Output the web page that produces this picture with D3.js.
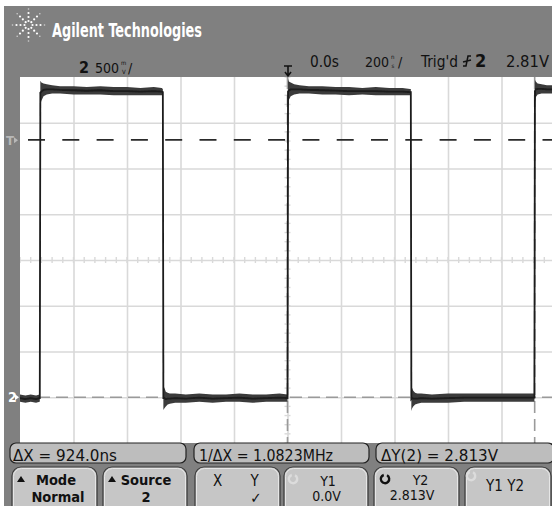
<!DOCTYPE html>
<html>
<head>
<meta charset="utf-8">
<script src="https://cdn.jsdelivr.net/npm/d3@7/dist/d3.min.js"></script>
<style>
  html, body { margin: 0; padding: 0; background: #fff; }
  svg { display: block; }
  text { font-family: "Liberation Sans Narrow", "DejaVu Sans Condensed", "Liberation Sans", Arial, sans-serif; }
</style>
</head>
<body>
<svg id="scope" width="552" height="506"></svg>
<script>
// ---- Acquisition settings ----
const timePerDivNs = 200;      // horizontal scale
const voltsPerDiv = 0.5;       // channel 2 vertical scale
const timeDivisions = [-5, -4, -3, -2, -1, 0, 1, 2, 3, 4, 5];
const voltDivisions = [-4, -3, -2, -1, 0, 1, 2, 3, 4];
const screenCenterVolts = 1.5;

// ---- Channel 2 trace: envelope (max / min) in volts at sample times in ns ----
const traceTimeNs = [
  -1000, -980, -960, -940, -927, -926,
  -924, -920, -912, -900, -880, -850, -800, -750, -700, -650, -600, -550, -500, -470, -466,
  -464, -460, -455, -448, -440, -420, -380, -330, -280, -230, -180, -130, -80, -30, 0,
  2, 5, 12, 25, 45, 80, 130, 180, 230, 280, 330, 380, 430, 458, 461,
  463, 466, 470, 477, 485, 500, 540, 600, 660, 720, 780, 840, 890, 920, 923,
  925, 928, 935, 950, 970, 1000
];
const traceMaxV = [
  0.03, 0.02, 0.03, 0.02, 0.03, 0.03,
  3.46, 3.44, 3.43, 3.42, 3.41, 3.40, 3.40, 3.39, 3.40, 3.39, 3.39, 3.38, 3.39, 3.38, 3.37,
  0.12, 0.10, 0.06, 0.05, 0.04, 0.04, 0.03, 0.04, 0.03, 0.03, 0.04, 0.03, 0.03, 0.04, 0.03,
  3.48, 3.45, 3.44, 3.42, 3.41, 3.40, 3.40, 3.39, 3.39, 3.38, 3.39, 3.38, 3.38, 3.37, 3.37,
  0.11, 0.10, 0.07, 0.05, 0.04, 0.04, 0.03, 0.04, 0.04, 0.04, 0.04, 0.04, 0.04, 0.04, 0.04,
  3.47, 3.45, 3.43, 3.42, 3.41, 3.41
];
const traceMinV = [
  -0.05, -0.06, -0.05, -0.06, -0.05, -0.05,
  3.20, 3.24, 3.29, 3.31, 3.32, 3.32, 3.31, 3.31, 3.31, 3.30, 3.30, 3.30, 3.30, 3.30, 3.30,
  -0.14, -0.12, -0.10, -0.08, -0.07, -0.06, -0.06, -0.05, -0.06, -0.05, -0.05, -0.06, -0.05, -0.05, -0.05,
  3.20, 3.25, 3.29, 3.31, 3.32, 3.32, 3.31, 3.31, 3.30, 3.31, 3.30, 3.30, 3.30, 3.30, 3.30,
  -0.15, -0.12, -0.10, -0.08, -0.07, -0.06, -0.06, -0.06, -0.05, -0.05, -0.05, -0.05, -0.05, -0.05, -0.05,
  3.22, 3.28, 3.31, 3.32, 3.32, 3.32
];

// ---- Cursors ----
const cursorX1Ns = 0;
const cursorX2Ns = 924;
const cursorY1V = 0.0;
const cursorY2V = 2.813;
const triggerLevelV = 2.81;

// ---- Status line and softkey labels ----
const brandText = "Agilent Technologies";
const readouts = ["\u0394X = 924.0ns", "1/\u0394X = 1.0823MHz", "\u0394Y(2) = 2.813V"];
const softkeyTop = ["Mode", "Source", "", "Y1", "Y2", ""];
const softkeyBottom = ["Normal", "2", "\u2713", "0.0V", "2.813V", "Y1 Y2"];

const svg = d3.select("#scope");
const W = 552, H = 506;

// bezel background
svg.append("rect").attr("x", 0).attr("y", 0).attr("width", W).attr("height", H).attr("fill", "#fff");
svg.append("rect").attr("x", 4).attr("y", 6).attr("width", W - 4).attr("height", H - 6).attr("fill", "#808080");

// graticule area
const plot = { left: 20, right: 555, top: 77, bottom: 443 };
const x = d3.scaleLinear()
  .domain([timeDivisions[0] * timePerDivNs, timeDivisions[timeDivisions.length - 1] * timePerDivNs])
  .range([plot.left, plot.right]);
const y = d3.scaleLinear()
  .domain([screenCenterVolts + voltDivisions[0] * voltsPerDiv, screenCenterVolts + voltDivisions[voltDivisions.length - 1] * voltsPerDiv])
  .range([plot.bottom, plot.top]);

const defs = svg.append("defs");
defs.append("clipPath").attr("id", "screen")
  .append("rect").attr("x", plot.left).attr("y", plot.top)
  .attr("width", W - plot.left).attr("height", plot.bottom - plot.top);
defs.append("filter").attr("id", "soft").append("feGaussianBlur").attr("stdDeviation", 0.45);

svg.append("rect").attr("x", plot.left).attr("y", plot.top)
  .attr("width", W - plot.left).attr("height", plot.bottom - plot.top).attr("fill", "#fff");

const screen = svg.append("g").attr("clip-path", "url(#screen)");

// grid lines via axes
const gx = screen.append("g")
  .attr("transform", `translate(0,${plot.bottom})`)
  .call(d3.axisBottom(x)
    .tickValues(timeDivisions.slice(1, -1).map(d => d * timePerDivNs))
    .tickSize(-(plot.bottom - plot.top)).tickFormat(""));
const gy = screen.append("g")
  .attr("transform", `translate(${plot.left},0)`)
  .call(d3.axisLeft(y)
    .tickValues(voltDivisions.slice(1, -1).map(d => screenCenterVolts + d * voltsPerDiv))
    .tickSize(-(W - plot.left)).tickFormat(""));
[gx, gy].forEach(g => {
  g.select(".domain").remove();
  g.selectAll(".tick line").attr("stroke", "#d9d9d9").attr("stroke-width", 1.6);
});

// minor ticks on the centre axes
const minorT = d3.range(timeDivisions[0] * 5, timeDivisions[timeDivisions.length - 1] * 5 + 1).map(k => k * timePerDivNs / 5);
const minorV = d3.range(voltDivisions[0] * 5, voltDivisions[voltDivisions.length - 1] * 5 + 1).map(k => screenCenterVolts + k * voltsPerDiv / 5);
screen.append("g").selectAll("line").data(minorT).join("line")
  .attr("x1", d => x(d)).attr("x2", d => x(d))
  .attr("y1", y(screenCenterVolts) - 3).attr("y2", y(screenCenterVolts) + 3)
  .attr("stroke", "#d9d9d9").attr("stroke-width", 1.4);
screen.append("g").selectAll("line").data(minorV).join("line")
  .attr("y1", d => y(d)).attr("y2", d => y(d))
  .attr("x1", x(0) - 3).attr("x2", x(0) + 3)
  .attr("stroke", "#d9d9d9").attr("stroke-width", 1.4);

// cursors
screen.append("line")
  .attr("x1", plot.left).attr("x2", W).attr("y1", y(cursorY1V)).attr("y2", y(cursorY1V))
  .attr("stroke", "#9a9a9a").attr("stroke-width", 1.6).attr("stroke-dasharray", "12,6");
screen.append("line")
  .attr("x1", plot.left + 8).attr("x2", W).attr("y1", y(cursorY2V)).attr("y2", y(cursorY2V))
  .attr("stroke", "#2a2a2a").attr("stroke-width", 1.6).attr("stroke-dasharray", "17,17.3");
[cursorX1Ns, cursorX2Ns].forEach(t => {
  screen.append("line")
    .attr("x1", x(t)).attr("x2", x(t)).attr("y1", plot.top).attr("y2", plot.bottom)
    .attr("stroke", "#9a9a9a").attr("stroke-width", 1.6).attr("stroke-dasharray", "12,6");
});

// trace
const samples = traceTimeNs.map((t, i) => ({ t, hi: traceMaxV[i], lo: traceMinV[i] }));
const band = d3.area().x(d => x(d.t)).y0(d => y(d.lo)).y1(d => y(d.hi)).curve(d3.curveLinear);
const mid = d3.line().x(d => x(d.t)).y(d => y((d.hi + d.lo) / 2));
const traceG = screen.append("g").attr("filter", "url(#soft)");
traceG.append("path").datum(samples).attr("d", band).attr("fill", "#3a3a3a");
traceG.append("path").datum(samples).attr("d", mid)
  .attr("fill", "none").attr("stroke", "#1a1a1a").attr("stroke-width", 1.8);

// left gutter markers
svg.append("text").attr("x", 6).attr("y", y(triggerLevelV) + 5).text("T")
  .attr("font-size", 13).attr("fill", "#b8b8b8").attr("font-weight", "bold");
svg.append("path")
  .attr("d", `M14,${y(triggerLevelV) - 3} L18,${y(triggerLevelV)} L14,${y(triggerLevelV) + 3} Z`)
  .attr("fill", "#b8b8b8");
svg.append("text").attr("x", 8).attr("y", y(0) + 5).text("2")
  .attr("font-size", 14).attr("fill", "#fff").attr("font-weight", "bold");
svg.append("path")
  .attr("d", `M15,${y(0) - 3} L19,${y(0)} L15,${y(0) + 3} Z`).attr("fill", "#fff");

// brand logo (spark of dots)
const logo = svg.append("g").attr("transform", "translate(28.5,25)");
d3.range(8).forEach(k => {
  const a = k * Math.PI / 4;
  [4, 8, 12, 16].forEach((r, j) => {
    logo.append("circle").attr("cx", Math.cos(a) * r).attr("cy", Math.sin(a) * r)
      .attr("r", j === 3 ? 0.8 : 1.1).attr("fill", j === 3 ? "#cfcfcf" : "#fff");
  });
});
svg.append("text").attr("x", 52).attr("y", 36.5).text(brandText)
  .attr("font-size", 20).attr("font-weight", "bold").attr("fill", "#fff")
  .attr("textLength", 150).attr("lengthAdjust", "spacingAndGlyphs");

// status line
const status = svg.append("g").attr("fill", "#111");
status.append("text").attr("x", 79).attr("y", 73).text("2").attr("font-size", 16).attr("font-weight", "bold");
status.append("text").attr("x", 95).attr("y", 73).text("500").attr("font-size", 14);
status.append("text").attr("x", 121).attr("y", 65).text("m").attr("font-size", 6);
status.append("text").attr("x", 122).attr("y", 73.5).text("V").attr("font-size", 6);
status.append("text").attr("x", 128).attr("y", 73).text("/").attr("font-size", 14);

// trigger position marker
svg.append("path").attr("d", "M284,66 L292,66 M288,66 L288,75 M285,72 L288,76 L291,72")
  .attr("stroke", "#111").attr("stroke-width", 1.6).attr("fill", "none");

status.append("text").attr("x", 310).attr("y", 67).text("0.0s").attr("font-size", 15)
  .attr("textLength", 29).attr("lengthAdjust", "spacingAndGlyphs");
status.append("text").attr("x", 365).attr("y", 67).text("200").attr("font-size", 14);
status.append("text").attr("x", 391).attr("y", 59).text("n").attr("font-size", 6);
status.append("text").attr("x", 391.5).attr("y", 67.5).text("s").attr("font-size", 6);
status.append("text").attr("x", 398).attr("y", 67).text("/").attr("font-size", 14);
status.append("text").attr("x", 421).attr("y", 67).text("Trig'd").attr("font-size", 15)
  .attr("textLength", 37).attr("lengthAdjust", "spacingAndGlyphs");
svg.append("path").attr("d", "M463,66 L466,66 L468,56 L471,56 M463,62 L471,60")
  .attr("stroke", "#111").attr("stroke-width", 1.5).attr("fill", "none");
status.append("text").attr("x", 475).attr("y", 67).text("2").attr("font-size", 18).attr("font-weight", "bold");
status.append("text").attr("x", 506).attr("y", 67).text("2.81V").attr("font-size", 15)
  .attr("textLength", 43).attr("lengthAdjust", "spacingAndGlyphs");

// cursor readouts
const readBoxes = [
  { x0: 10, x1: 186, tx: 13, tw: 104 },
  { x0: 194, x1: 369, tx: 199, tw: 134 },
  { x0: 376, x1: 554, tx: 381, tw: 117 }
];
readBoxes.forEach((b, i) => {
  svg.append("rect").attr("x", b.x0).attr("y", 443).attr("width", b.x1 - b.x0).attr("height", 20)
    .attr("rx", 6).attr("fill", "#bdbdbd").attr("stroke", "#222").attr("stroke-width", 1.2);
  svg.append("text").attr("x", b.tx).attr("y", 461).text(readouts[i])
    .attr("font-size", 15).attr("fill", "#111")
    .attr("textLength", b.tw).attr("lengthAdjust", "spacingAndGlyphs");
});

// softkeys
const keyBoxes = [
  { x0: 12, x1: 97 }, { x0: 103, x1: 187 }, { x0: 195, x1: 280 },
  { x0: 284, x1: 368 }, { x0: 374, x1: 459 }, { x0: 465, x1: 551 }
];
const keyTopX = [56, 146, 0, 328, 420.5, 0];
const keyTopY = [485, 485, 0, 485.5, 484.5, 0];
const keyBotX = [58, 146, 256, 326.5, 412, 505];
const keyBotY = [502, 502, 503, 501, 500, 491];
const keyFont = [14.5, 14.5, 15, 14, 14, 15];
keyBoxes.forEach((b, i) => {
  svg.append("rect").attr("x", b.x0).attr("y", 467).attr("width", b.x1 - b.x0).attr("height", 50)
    .attr("rx", 9).attr("fill", "#c6c6c6").attr("stroke", "#3a3a3a").attr("stroke-width", 1.2);
  svg.append("rect").attr("x", b.x0 + 1.5).attr("y", 468.5).attr("width", b.x1 - b.x0 - 3).attr("height", 50)
    .attr("rx", 8).attr("fill", "none").attr("stroke", "#e6e6e6").attr("stroke-width", 1);
  const weight = i < 2 ? "bold" : "normal";
  if (softkeyTop[i]) {
    svg.append("text").attr("x", keyTopX[i]).attr("y", keyTopY[i]).text(softkeyTop[i])
      .attr("text-anchor", "middle").attr("font-size", keyFont[i]).attr("fill", "#111")
      .attr("font-weight", weight);
  }
  svg.append("text").attr("x", keyBotX[i]).attr("y", keyBotY[i]).text(softkeyBottom[i])
    .attr("text-anchor", "middle").attr("font-size", keyFont[i]).attr("fill", "#111")
    .attr("font-weight", weight);
});

// softkey menu arrows
[12, 103].forEach(x0 => {
  svg.append("path").attr("d", `M${x0 + 5},482 L${x0 + 9},476 L${x0 + 13},482 Z`).attr("fill", "#111");
});
// X / Y cursor-unit labels on the third key
svg.append("text").attr("x", 217.5).attr("y", 486).text("X").attr("text-anchor", "middle")
  .attr("font-size", 15).attr("fill", "#111");
svg.append("text").attr("x", 254.5).attr("y", 486).text("Y").attr("text-anchor", "middle")
  .attr("font-size", 15).attr("fill", "#111");
// entry knob icons
[{ cx: 293, cy: 479, on: false }, { cx: 385, cy: 479, on: true }, { cx: 471, cy: 476, on: false }].forEach(k => {
  svg.append("path")
    .attr("d", d3.arc()({ innerRadius: 3.0, outerRadius: 5.4, startAngle: 0.5, endAngle: 2 * Math.PI - 0.3 }))
    .attr("transform", `translate(${k.cx},${k.cy})`)
    .attr("fill", k.on ? "#111" : "#dcdcdc");
});
</script>
</body>
</html>
